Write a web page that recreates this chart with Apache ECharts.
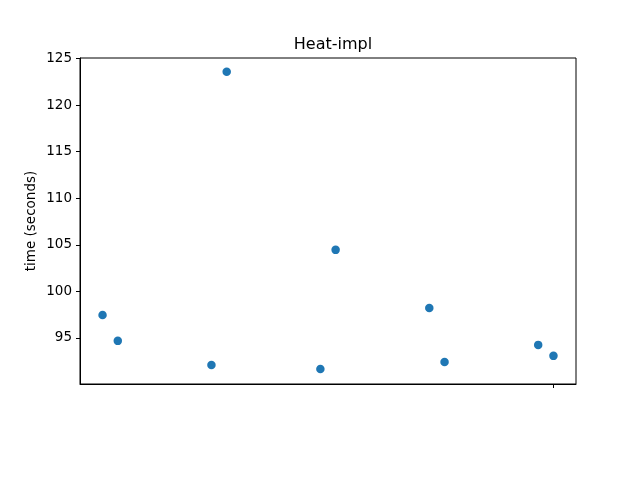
<!DOCTYPE html>
<html>
<head>
<meta charset="utf-8">
<script src="https://cdn.jsdelivr.net/npm/echarts@6/dist/echarts.min.js"></script>
<style>html,body{margin:0;padding:0;background:#fff}#c{width:640px;height:480px}</style>
</head>
<body>
<div id="c"></div>
<script>
var xValues = [0, 0.14, 1, 1.14, 2, 2.14, 3, 3.14, 4, 4.14];
var yValues = [97.47, 94.68, 92.10, 123.57, 91.67, 104.45, 98.22, 92.42, 94.25, 93.07];
var yTicks = [95, 100, 105, 110, 115, 120, 125];
var xTicks = [4.14];

var chart = echarts.init(document.getElementById('c'), null, {renderer: 'canvas'});
var font = 'DejaVu Sans';
chart.setOption({
  animation: false,
  backgroundColor: '#fff',
  title: {
    text: 'Heat-impl', left: 328, top: 32, textAlign: 'center',
    textStyle: {fontFamily: font, fontSize: 16, fontWeight: 'normal', color: '#000'}
  },
  grid: {left: 80, top: 58, width: 496, height: 326, show: true, borderColor: '#000', borderWidth: 1, backgroundColor: 'transparent'},
  xAxis: {
    type: 'value', min: -0.207, max: 4.347,
    splitLine: {show: false},
    axisLine: {show: true, onZero: false, lineStyle: {color: '#000', width: 1}},
    axisTick: {show: true, customValues: xTicks, length: 4, lineStyle: {color: '#000'}},
    axisLabel: {show: false}
  },
  yAxis: {
    type: 'value', min: 90.05, max: 125.05,
    name: 'time (seconds)', nameLocation: 'middle', nameGap: 42, nameRotate: 90,
    nameMoveOverlap: false,
    nameTextStyle: {fontFamily: font, fontSize: 13.5, color: '#000'},
    splitLine: {show: false},
    axisLine: {show: true, onZero: false, lineStyle: {color: '#000', width: 1}},
    axisTick: {show: true, customValues: yTicks, length: 4, lineStyle: {color: '#000'}},
    axisLabel: {show: true, customValues: yTicks, fontFamily: font, fontSize: 13.5, color: '#000', margin: 8}
  },
  series: [{
    type: 'scatter',
    symbolSize: 8.5,
    itemStyle: {color: '#1f77b4', opacity: 1},
    data: xValues.map(function (x, i) { return [x, yValues[i]]; })
  }]
});
</script>
</body>
</html>
